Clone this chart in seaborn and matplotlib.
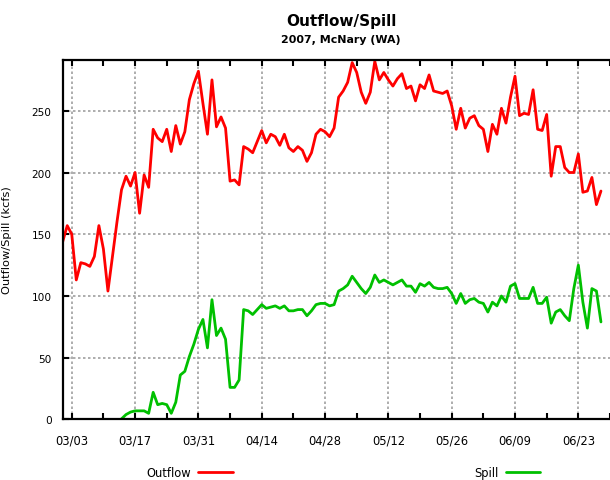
import numpy as np
import pandas as pd
import matplotlib; matplotlib.use('agg')
import matplotlib.pyplot as plt
import matplotlib.dates as mdates
import seaborn as sns


sns.set_style("white")
plt.rcParams['font.family'] = ['DejaVu Sans']
plt.rcParams['text.color'] = 'black'
plt.rcParams['axes.labelcolor'] = 'black'
plt.rcParams['xtick.color'] = 'black'
plt.rcParams['ytick.color'] = 'black'

# daily values, starting 2007-03-01 (kcfs)
start_date = '2007-03-01'
outflow = [144, 157, 150, 113, 127, 126, 124, 132, 157, 138,
           104, 132, 160, 186, 197, 189, 200, 167, 198, 188,
           235, 228, 225, 235, 217, 238, 223, 233, 259, 272,
           282, 256, 231, 275, 237, 245, 236, 193, 194, 190,
           221, 219, 216, 225, 234, 224, 231, 229, 222, 231,
           220, 217, 221, 218, 209, 216, 231, 235, 233, 229,
           236, 261, 266, 273, 289, 281, 265, 256, 265, 290,
           275, 281, 275, 270, 276, 280, 268, 270, 258, 271,
           268, 279, 266, 265, 264, 266, 254, 235, 252, 236,
           244, 246, 238, 235, 217, 239, 231, 252, 240, 261,
           278, 246, 248, 247, 267, 235, 234, 247, 197, 221,
           221, 204, 200, 200, 215, 184, 185, 196, 174, 185]
spill = [np.nan] * 13 + [
    0.5, 4, 6, 7, 7, 7, 5,
    22, 12, 13, 12, 5, 14, 36, 39, 51, 61,
    73, 81, 58, 97, 68, 74, 65, 26, 26, 32,
    89, 88, 85, 89, 93, 90, 91, 92, 90, 92,
    88, 88, 89, 89, 84, 88, 93, 94, 94, 92,
    93, 104, 106, 109, 116, 111, 106, 102, 107, 117,
    111, 113, 111, 109, 111, 113, 108, 108, 103, 110,
    108, 111, 107, 106, 106, 107, 102, 94, 102, 94,
    97, 98, 95, 94, 87, 95, 92, 100, 95, 108,
    110, 98, 98, 98, 107, 94, 94, 99, 78, 87,
    89, 84, 80, 106, 125, 95, 74, 106, 104, 79]

tick_dates = pd.date_range('2007-03-03', periods=9, freq='14D')
minor_dates = pd.date_range('2007-03-10', periods=9, freq='14D')
y_ticks = [0, 50, 100, 150, 200, 250]

dates = pd.date_range(start_date, periods=len(outflow), freq='D')
df = pd.DataFrame({'date': dates, 'Outflow': outflow, 'Spill': spill})

fig = plt.figure(figsize=(6.1, 4.81), dpi=100)
ax = fig.add_axes([0.1028, 0.1258, 0.8972, 0.7484])

sns.lineplot(data=df, x='date', y='Outflow', color='#ff0000', lw=2,
             estimator=None, label='Outflow', ax=ax, legend=False)
sns.lineplot(data=df.dropna(), x='date', y='Spill', color='#00c000', lw=2,
             estimator=None, label='Spill', ax=ax, legend=False)

ax.set_xlim(pd.Timestamp(start_date), pd.Timestamp(start_date) + pd.Timedelta(days=119.2))
ax.set_ylim(0, 291.5)
ax.set_xticks(tick_dates)
ax.set_xticks(minor_dates, minor=True)
ax.xaxis.set_major_formatter(mdates.DateFormatter('%m/%d'))
ax.set_yticks(y_ticks)

ax.grid(True, which='major', color='#a0a0a0', linestyle=(0, (1.5, 1.5)), lw=1.2)
ax.tick_params(axis='x', which='both', direction='in', top=True, bottom=True,
               length=4, width=1.5, labelsize=8.3, pad=10)
ax.tick_params(axis='y', which='major', direction='in', left=True, right=False,
               length=4, width=1.5, labelsize=7.6, pad=8)

for side in ['left', 'top', 'bottom']:
    ax.spines[side].set_linewidth(1.6)
    ax.spines[side].set_color('black')
ax.spines['right'].set_visible(False)

ax.set_xlabel('')
ax.set_ylabel('Outflow/Spill (kcfs)', fontsize=8.2, labelpad=14)

fig.text(341 / 610, 1 - 21.5 / 481, 'Outflow/Spill', ha='center', va='center',
         fontsize=11, fontweight='bold')
fig.text(341 / 610, 1 - 40 / 481, '2007, McNary (WA)', ha='center', va='center',
         fontsize=7.9, fontweight='bold')

handles, labels = ax.get_legend_handles_labels()
fig.legend(handles, labels, loc='center', bbox_to_anchor=(343.5 / 610, 1 - 474 / 481),
           ncol=2, frameon=False, markerfirst=False, fontsize=8.3,
           handlelength=3, handletextpad=0.6, columnspacing=21)

plt.savefig('out.png', dpi=100)
